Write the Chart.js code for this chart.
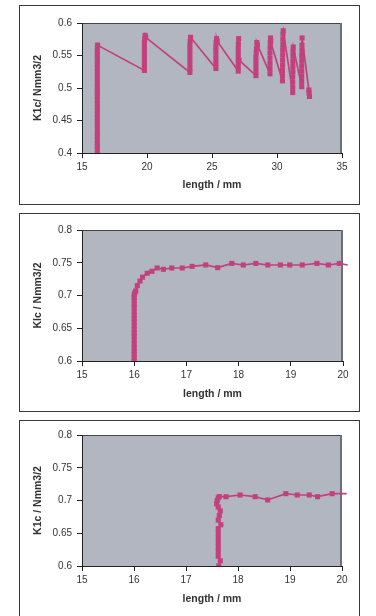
<!DOCTYPE html>
<html><head><meta charset="utf-8">
<script src="https://cdn.jsdelivr.net/npm/chart.js@4.4.1/dist/chart.umd.min.js"></script>
<style>
html,body{margin:0;padding:0;background:#fff;width:376px;height:616px;overflow:hidden;position:relative;}
.box{position:absolute;border:1px solid #3a3a3a;box-sizing:border-box;}
canvas{position:absolute;left:0;}
</style></head><body>
<div class="box" style="left:19px;top:5px;width:341px;height:200px"></div>
<div class="box" style="left:19px;top:213px;width:341px;height:199px"></div>
<div class="box" style="left:19px;top:420px;width:341px;height:230px"></div>
<canvas id="c1" width="376" height="198" style="top:6px"></canvas>
<canvas id="c2" width="376" height="197" style="top:214px"></canvas>
<canvas id="c3" width="376" height="195" style="top:421px"></canvas>
<script>
// ---------- Panel 1 data ----------
const x1 = [
 16.18,16.18,16.18,16.18,16.18,16.18,16.18,16.18,16.18,16.18,16.18,16.18,16.18,16.18,16.18,16.18,
 16.18,16.18,16.18,16.18,16.18,16.18,16.18,16.18,16.18,16.18,16.18,16.18,16.18,16.18,16.18,16.2,
 19.8,19.8,19.8,19.8,19.8,19.8,19.8,19.82,19.85,19.9,
 23.3,23.3,23.3,23.3,23.3,23.3,23.3,23.32,23.35,
 25.3,25.3,25.3,25.3,25.3,25.3,25.32,25.35,25.4,
 27.02,27.02,27.02,27.02,27.02,27.02,27.03,27.05,27.08,
 28.38,28.38,28.38,28.38,28.38,28.4,28.42,28.45,28.5,
 29.46,29.46,29.46,29.46,29.46,29.47,29.48,29.5,29.52,
 30.42,30.42,30.42,30.43,30.43,30.44,30.44,30.45,30.45,30.46,30.48,
 31.21,31.21,31.21,31.21,31.22,31.22,31.22,31.23,31.23,31.25,
 31.9,31.9,31.9,31.9,31.9,31.91,31.91,31.92,31.92,31.93,
 32.45,32.47,32.5
];
const y1 = [
 0.398,0.405,0.41,0.415,0.42,0.426,0.431,0.437,0.443,0.448,0.454,0.46,0.465,0.47,0.476,0.481,
 0.487,0.492,0.497,0.502,0.508,0.514,0.519,0.525,0.531,0.536,0.541,0.547,0.552,0.557,0.562,0.566,
 0.527,0.534,0.541,0.548,0.555,0.562,0.569,0.575,0.581,0.578,
 0.524,0.530,0.537,0.544,0.551,0.558,0.565,0.572,0.578,
 0.530,0.537,0.544,0.551,0.558,0.564,0.570,0.576,0.572,
 0.526,0.533,0.540,0.547,0.554,0.561,0.568,0.576,0.543,
 0.519,0.526,0.533,0.540,0.547,0.554,0.561,0.570,0.566,
 0.522,0.530,0.538,0.546,0.554,0.562,0.570,0.577,0.572,
 0.511,0.519,0.527,0.535,0.543,0.551,0.559,0.567,0.575,0.583,0.588,
 0.493,0.501,0.509,0.517,0.525,0.533,0.541,0.549,0.556,0.563,
 0.502,0.510,0.518,0.526,0.534,0.542,0.550,0.558,0.566,0.577,
 0.497,0.492,0.487
];
const xTicks1 = [15,20,25,30,35];
const yTicks1 = [0.4,0.45,0.5,0.55,0.6];
const yLabels1 = ['0.4','0.45','0.5','0.55','0.6'];

// ---------- Panel 2 data ----------
const x2 = [
 16.0,16.0,16.0,16.0,16.0,16.0,16.0,16.0,16.0,16.0,16.0,16.0,16.0,16.0,16.0,16.0,16.0,16.0,16.0,16.0,16.01,
 16.03,16.06,16.11,16.16,16.25,16.34,16.44,16.56,16.72,16.92,17.11,17.37,17.6,17.87,18.09,18.33,18.56,18.8,18.98,19.22,19.5,19.72,19.93,20.09
];
const y2 = [
 0.600,0.605,0.610,0.615,0.620,0.626,0.632,0.638,0.643,0.648,0.654,0.660,0.665,0.670,0.676,0.682,0.687,0.692,0.697,0.701,0.704,
 0.707,0.715,0.722,0.728,0.734,0.737,0.742,0.740,0.742,0.742,0.7445,0.7466,0.7425,0.749,0.7466,0.749,0.7466,0.7466,0.7466,0.7466,0.749,0.7466,0.749,0.7466
];
const xTicks2 = [15,16,17,18,19,20];
const yTicks2 = [0.6,0.65,0.7,0.75,0.8];
const yLabels2 = ['0.6','0.65','0.7','0.75','0.8'];

// ---------- Panel 3 data ----------
const x3 = [
 17.63,17.66,17.62,17.62,17.62,17.62,17.62,17.62,17.62,17.67,17.62,17.64,17.66,17.62,17.59,17.6,17.62,17.64,
 17.77,18.04,18.33,18.57,18.92,19.14,19.37,19.53,19.81,20.09
];
const y3 = [
 0.600,0.608,0.615,0.622,0.629,0.636,0.643,0.650,0.657,0.663,0.670,0.677,0.684,0.690,0.695,0.700,0.704,0.706,
 0.7058,0.7084,0.7058,0.7008,0.7104,0.7084,0.7084,0.7058,0.7104,0.7104
];
const xTicks3 = [15,16,17,18,19,20];
const yTicks3 = [0.6,0.65,0.7,0.75,0.8];
const yLabels3 = ['0.6','0.65','0.7','0.75','0.8'];

const MARK = '#c2417d';
const INK = '#333333';
const FONT = "'Liberation Sans', Arial, sans-serif";

const plotBg = {
  id: 'plotBg',
  beforeDraw(chart) {
    const {ctx, chartArea: a} = chart;
    ctx.save();
    ctx.fillStyle = '#b1b6c1';
    ctx.fillRect(a.left, a.top, a.right - a.left, a.bottom - a.top);
    ctx.strokeStyle = '#454545'; ctx.lineWidth = 1;
    ctx.beginPath(); ctx.moveTo(a.left, a.top + 0.5); ctx.lineTo(a.right, a.top + 0.5); ctx.stroke();
    ctx.strokeStyle = '#6b6f76'; ctx.lineWidth = 2;
    ctx.beginPath(); ctx.moveTo(a.right - 1, a.top); ctx.lineTo(a.right - 1, a.bottom); ctx.stroke();
    ctx.restore();
  }
};

function makeChart(id, xs, ys, xTicks, yTicks, yLabels, yTitle, g) {
  const pts = xs.map((x, i) => ({x: x, y: ys[i]}));
  const n = pts.length;
  return new Chart(document.getElementById(id), {
    type: 'scatter',
    data: { datasets: [{
      data: pts,
      showLine: true,
      borderColor: MARK,
      borderWidth: 1.7,
      backgroundColor: MARK,
      pointBackgroundColor: MARK,
      pointBorderWidth: 0,
      pointStyle: 'rect',
      pointRadius: c => (g.tail && c.dataIndex === n - 1) ? 0 : 3.6,
      tension: 0,
      clip: g.tail ? {left: 0, top: 0, right: 10, bottom: 0} : undefined
    }]},
    options: {
      responsive: false,
      animation: false,
      devicePixelRatio: 1,
      events: [],
      layout: { padding: { left: 20, right: 376 - g.right, top: g.top, bottom: 0 } },
      plugins: { legend: {display: false}, tooltip: {enabled: false} },
      scales: {
        x: {
          type: 'linear',
          min: xTicks[0], max: xTicks[xTicks.length - 1],
          afterBuildTicks: s => { s.ticks = xTicks.map(v => ({value: v})); },
          afterFit: s => { s.height = g.xh; s.paddingLeft = 0; s.paddingRight = 0; },
          grid: { drawOnChartArea: false, drawTicks: true, tickLength: 5, color: '#222', lineWidth: 1 },
          border: { display: true, color: '#222', width: 1 },
          ticks: { padding: 3, color: INK, font: {family: FONT, size: 10}, maxRotation: 0,
                   callback: (v, i) => String(xTicks[i]) },
          title: { display: true, text: 'length / mm', color: INK,
                   font: {family: FONT, size: 10.5, weight: 'bold'},
                   padding: {top: 0, bottom: g.xtp} }
        },
        y: {
          type: 'linear',
          min: yTicks[0], max: yTicks[yTicks.length - 1],
          afterBuildTicks: s => { s.ticks = yTicks.map(v => ({value: v})); },
          afterFit: s => { s.width = 62; s.paddingTop = 0; s.paddingBottom = 0; },
          grid: { drawOnChartArea: false, drawTicks: true, tickLength: 5, color: '#222', lineWidth: 1 },
          border: { display: true, color: '#222', width: 1 },
          ticks: { padding: 5, color: INK, font: {family: FONT, size: 10},
                   callback: (v, i) => yLabels[i] },
          title: { display: true, text: yTitle, color: INK,
                   font: {family: FONT, size: 10.5, weight: 'bold'},
                   padding: {top: 12, bottom: 0} }
        }
      }
    },
    plugins: [plotBg]
  });
}

makeChart('c1', x1, y1, xTicks1, yTicks1, yLabels1, 'K1c/ Nmm3/2',
  {top: 17, right: 342, xh: 51, xtp: 12.7, tail: false});
makeChart('c2', x2, y2, xTicks2, yTicks2, yLabels2, 'Klc / Nmm3/2',
  {top: 16, right: 343, xh: 50, xtp: 10.4, tail: true});
makeChart('c3', x3, y3, xTicks3, yTicks3, yLabels3, 'K1c / Nmm3/2',
  {top: 14, right: 342, xh: 50, xtp: 10.4, tail: true});
</script>
</body></html>
